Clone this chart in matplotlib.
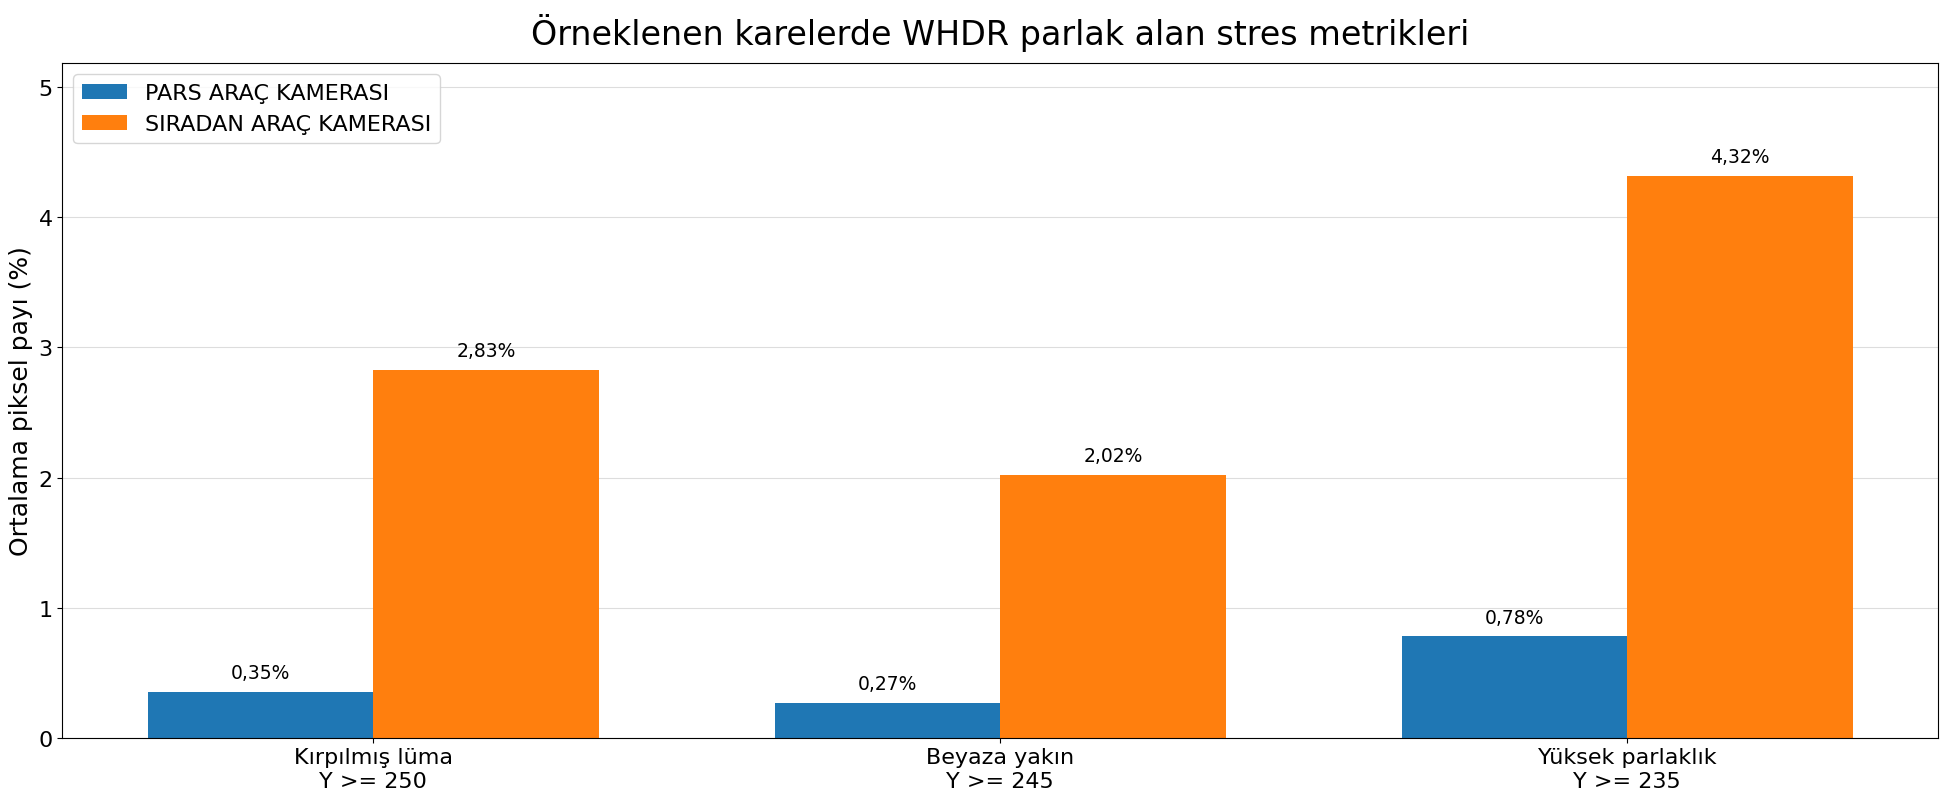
import matplotlib.pyplot as plt
import numpy as np

categories = ['Kırpılmış lüma\nY >= 250', 'Beyaza yakın\nY >= 245', 'Yüksek parlaklık\nY >= 235']
pars = [0.35, 0.27, 0.78]
siradan = [2.83, 2.02, 4.32]
series_names = ['PARS ARAÇ KAMERASI', 'SIRADAN ARAÇ KAMERASI']

x = np.arange(len(categories))
width = 0.36

fig, ax = plt.subplots(figsize=(19.48, 8.03), dpi=100)
b1 = ax.bar(x - width / 2, pars, width, label=series_names[0], color='#1f77b4')
b2 = ax.bar(x + width / 2, siradan, width, label=series_names[1], color='#ff7f0e')

for bars in (b1, b2):
    for bar in bars:
        h = bar.get_height()
        ax.annotate(f'{h:.2f}%'.replace('.', ','),
                    xy=(bar.get_x() + bar.get_width() / 2, h),
                    xytext=(0, 7), textcoords='offset points',
                    ha='center', va='bottom', fontsize=13.5)

ax.set_title('Örneklenen karelerde WHDR parlak alan stres metrikleri', fontsize=24, pad=14)
ax.set_ylabel('Ortalama piksel payı (%)', fontsize=18)
ax.set_xticks(x)
ax.set_xticklabels(categories, fontsize=16)
ax.tick_params(axis='y', labelsize=16)
ax.set_ylim(0, max(siradan) * 1.2)
ax.set_axisbelow(True)
ax.yaxis.grid(True, color='#dddddd', linewidth=0.8)
ax.legend(loc='upper left', fontsize=16)

plt.subplots_adjust(left=0.032, right=0.995, top=0.92, bottom=0.08)
plt.savefig('out.png')
